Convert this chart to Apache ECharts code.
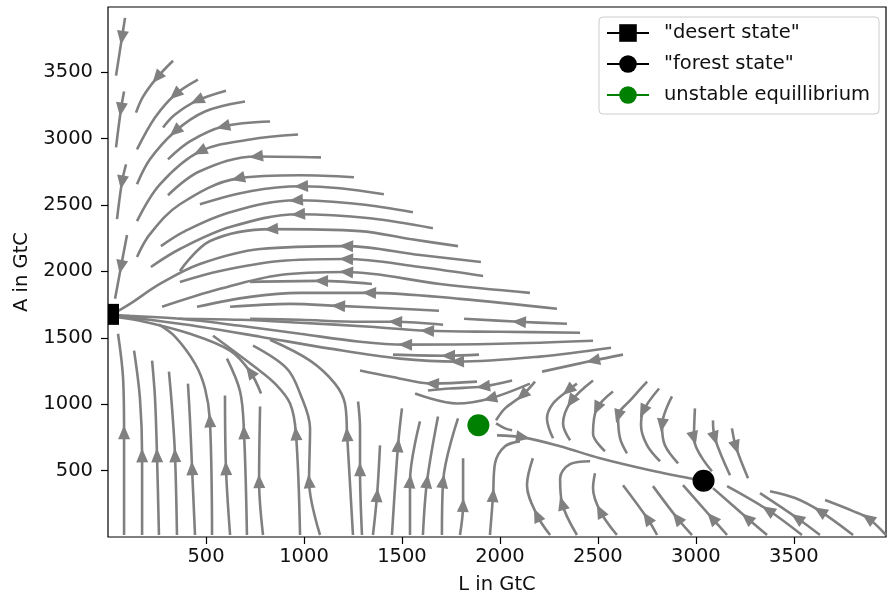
<!DOCTYPE html>
<html>
<head>
<meta charset="utf-8">
<script src="https://cdn.jsdelivr.net/npm/echarts@6/dist/echarts.min.js"></script>
<style>
  html, body { margin: 0; background: #fff; }
  #chart { width: 887px; height: 600px; }
</style>
</head>
<body>
<div id="chart"></div>
<script>
// axis ticks
const xTicks = [500, 1000, 1500, 2000, 2500, 3000, 3500];
const yTicks = [500, 1000, 1500, 2000, 2500, 3000, 3500];

// equilibria [L, A]
const desertState = [0, 1676];
const forestState = [3039, 424];
const unstableEq = [1890, 842];

// streamlines, points in flow order, [L, A]
const streamlines = [
  // left edge, flowing down
  [[87, 3908], [71, 3758], [41, 3473]],
  [[82, 3353], [66, 3218], [41, 2933]],
  [[92, 2805], [71, 2670], [46, 2393]],
  [[97, 2273], [66, 2033], [36, 1793]],
  // upper arcs towards the desert state
  [[332, 3585], [250, 3458], [179, 3315], [143, 3195]],
  [[459, 3443], [342, 3330], [240, 3158], [148, 2918]],
  [[602, 3360], [454, 3285], [342, 3180], [281, 3083]],
  [[699, 3278], [495, 3203], [342, 3053], [214, 2843], [148, 2655]],
  [[827, 3128], [587, 3090], [418, 2978], [306, 2843]],
  [[970, 3030], [725, 2993], [469, 2903], [265, 2655], [148, 2378]],
  [[1087, 2858], [755, 2865], [469, 2753], [306, 2573]],
  [[1255, 2708], [980, 2723], [663, 2700], [367, 2505], [214, 2280], [148, 2108]],
  [[1408, 2580], [1184, 2625], [985, 2640], [725, 2603], [469, 2505]],
  [[1556, 2445], [1286, 2505], [959, 2535], [623, 2445], [393, 2303], [270, 2190]],
  [[1658, 2325], [1337, 2400], [970, 2430], [623, 2333], [367, 2168], [219, 2033]],
  [[1786, 2190], [1541, 2243], [1286, 2303], [832, 2318], [521, 2228], [367, 2003]],
  [[1903, 2070], [1592, 2123], [1215, 2190], [776, 2168], [469, 2055], [265, 1905], [112, 1755], [26, 1680]],
  [[1914, 1965], [1592, 2033], [1215, 2093], [878, 2078], [572, 2003], [367, 1920]],
  [[2153, 1838], [1694, 1905], [1215, 1995], [878, 1973], [572, 1868], [276, 1733]],
  [[2291, 1718], [1796, 1793], [1332, 1838], [980, 1838], [725, 1808], [454, 1733]],
  [[1689, 1703], [1490, 1718], [1174, 1740], [929, 1755], [623, 1733]],
  [[1347, 1905], [1087, 1928], [725, 1920]],
  [[1710, 1598], [1465, 1620], [1286, 1620], [980, 1635], [725, 1643]],
  [[2342, 1605], [2097, 1620], [1817, 1643]],
  [[2409, 1538], [2000, 1545], [1628, 1553], [1337, 1583], [980, 1613], [674, 1635], [362, 1643]],
  [[2475, 1478], [2000, 1455], [1516, 1448], [1286, 1470], [980, 1530], [674, 1590], [367, 1643], [112, 1665], [26, 1673]],
  [[2567, 1425], [2204, 1358], [1781, 1320], [1490, 1343], [1133, 1418], [776, 1508], [469, 1583], [214, 1635], [36, 1665]],
  [[2628, 1373], [2475, 1328], [2215, 1245]],
  [[1883, 1170], [1653, 1155], [1439, 1208], [1286, 1253]],
  [[2062, 1178], [1914, 1133], [1745, 1118], [1633, 1103]],
  [[2153, 1155], [1949, 1043], [1781, 1005], [1567, 1080]],
  [[1893, 1373], [1735, 1365], [1454, 1373]],
  // around the unstable point
  [[2179, 1170], [2113, 1065], [2026, 968], [1980, 878]],
  [[1980, 855], [2026, 818], [2062, 803]],
  [[1985, 765], [2118, 750], [2307, 683], [2511, 593], [2766, 503], [3021, 428]],
  // lower left, flowing up
  [[82, 15], [82, 788], [77, 1193], [51, 1530]],
  [[174, 15], [174, 615], [163, 1043], [133, 1403]],
  [[260, 15], [250, 615], [240, 1043], [225, 1328]],
  [[352, 15], [342, 615], [327, 968], [311, 1245]],
  [[444, 15], [429, 518], [418, 893], [408, 1155]],
  [[531, 15], [520, 878], [495, 1118], [444, 1305], [342, 1508], [260, 1598]],
  [[623, 15], [602, 518], [597, 1065]],
  [[709, 15], [694, 788], [674, 1095], [607, 1343]],
  [[791, 15], [771, 420], [776, 983]],
  [[781, 1080], [725, 1245], [623, 1403], [418, 1530], [163, 1628], [26, 1658]],
  [[980, 15], [959, 780], [929, 1005], [852, 1155], [760, 1268], [536, 1515]],
  [[1082, 15], [1026, 420], [1031, 818], [980, 1080], [913, 1268], [740, 1440]],
  [[1250, 15], [1220, 773], [1209, 1005], [1158, 1155], [1031, 1328], [827, 1485]],
  [[1296, 15], [1286, 510], [1286, 818], [1276, 1020]],
  [[1352, 15], [1373, 315], [1388, 690]],
  [[1449, 15], [1480, 690], [1500, 968]],
  [[1541, 15], [1541, 420], [1592, 870]],
  [[1607, 15], [1628, 420], [1684, 908]],
  [[1704, 15], [1710, 420], [1786, 893]],
  [[1796, 15], [1812, 240], [1812, 593]],
  [[1949, 15], [1965, 315], [1975, 555], [2026, 683], [2102, 720]],
  // above the forest state, flowing down
  [[2393, 1155], [2347, 1103], [2271, 1005], [2240, 893], [2271, 743]],
  [[2475, 1178], [2363, 1020], [2322, 855], [2358, 728]],
  [[2577, 1095], [2495, 968], [2475, 780], [2536, 645]],
  [[2751, 1170], [2674, 1043], [2603, 908], [2613, 743], [2648, 630]],
  [[2812, 1118], [2730, 945], [2720, 840], [2751, 690], [2817, 570]],
  [[2878, 1058], [2827, 840], [2842, 690], [2909, 555]],
  [[2995, 968], [2990, 743], [3082, 495]],
  [[3087, 878], [3097, 743], [3174, 465]],
  [[3184, 818], [3205, 675], [3266, 443]],
  // lower right, flowing up-left
  [[2256, 15], [2189, 165], [2138, 390], [2168, 593]],
  [[2393, 15], [2317, 255], [2307, 443], [2358, 548], [2460, 570]],
  [[2597, 15], [2511, 195], [2475, 368], [2485, 480]],
  [[2802, 15], [2751, 143], [2628, 390]],
  [[2980, 15], [2904, 143], [2781, 383]],
  [[3159, 15], [3082, 143], [2934, 390]],
  [[3363, 15], [3261, 143], [3087, 368]],
  [[3541, 15], [3368, 203], [3159, 383]],
  [[3633, 15], [3516, 143], [3327, 330]],
  [[3802, 15], [3633, 195], [3506, 293], [3378, 345]],
  [[3970, 15], [3878, 143], [3802, 195], [3659, 278]]
];

// index of the point carrying the arrow head, -1 for none
const arrowAt = [
  1, 1, 1, 1,
  1, 1, 1, 2, 1,
  2, 1, 2, 2, 2, 2, 3, 2, 2, 2, 2,
  2, 1, 1, 1, 2, 2, 2, 1, 1, 1, 1, 1,
  1, -1, 1,
  1, 1, 1, 1, 1, 1, 1, 1, 1, 1, 1, 1, 1, 1,
  1, 1, 1, 1, 1, 1, 1,
  1, 1, 1, 2, 1, 1, 1, 1, 1,
  1, 1, 1, 1, 1, 1, 1, 1, 1, 1, 1
];

const FONT = '"DejaVu Sans", sans-serif';
const GREY = '#808080';

const chart = echarts.init(document.getElementById('chart'), null, { renderer: 'canvas' });

const lineSeries = streamlines.map(pts => ({
  type: 'line',
  data: pts,
  smooth: 0.35,
  symbol: 'none',
  silent: true,
  animation: false,
  lineStyle: { color: GREY, width: 2.6 },
  z: 2
}));

const option = {
  animation: false,
  backgroundColor: '#fff',
  textStyle: { fontFamily: FONT },
  grid: {
    left: 108, right: 1, top: 7, bottom: 61,
    show: true, borderColor: '#000', borderWidth: 1.2,
    containLabel: false
  },
  legend: {
    orient: 'vertical',
    left: 599, top: 17,
    data: ['"desert state"', '"forest state"', 'unstable equillibrium'],
    itemWidth: 42, itemHeight: 22, itemGap: 11,
    padding: [6, 9, 9, 7],
    borderColor: '#cccccc', borderWidth: 1, borderRadius: 4,
    backgroundColor: 'rgba(255,255,255,0.8)',
    textStyle: { fontFamily: FONT, fontSize: 19.5, color: '#111', padding: [0, 0, 0, 10] }
  },
  xAxis: {
    type: 'value', min: 0, max: 3970,
    name: 'L in GtC', nameLocation: 'middle', nameGap: 38,
    nameTextStyle: { fontFamily: FONT, fontSize: 19.5, color: '#111' },
    axisLine: { show: false },
    splitLine: { show: false },
    axisTick: { show: true, length: 7, lineStyle: { color: '#000', width: 1.2 }, customValues: xTicks },
    axisLabel: { fontFamily: FONT, fontSize: 19.5, color: '#111', margin: 10, customValues: xTicks, formatter: v => String(v) }
  },
  yAxis: {
    type: 'value', min: 0, max: 3990,
    name: 'A in GtC', nameLocation: 'middle', nameGap: 76,
    nameTextStyle: { fontFamily: FONT, fontSize: 19.5, color: '#111' },
    axisLine: { show: false },
    splitLine: { show: false },
    axisTick: { show: true, length: 7, lineStyle: { color: '#000', width: 1.2 }, customValues: yTicks },
    axisLabel: { fontFamily: FONT, fontSize: 19.5, color: '#111', margin: 15, customValues: yTicks, formatter: v => String(v) }
  },
  series: lineSeries.concat([
    { id: 'arrows', type: 'scatter', data: [], symbol: 'triangle', symbolSize: [12, 14],
      itemStyle: { color: GREY, opacity: 1 }, silent: true, z: 3 },
    // legend entries
    { name: '"desert state"', type: 'line', data: [], symbol: 'rect', symbolSize: 21,
      itemStyle: { color: '#000' }, lineStyle: { color: '#000', width: 2.5 } },
    { name: '"forest state"', type: 'line', data: [forestState], symbol: 'circle', symbolSize: 22,
      showSymbol: true, itemStyle: { color: '#000' }, lineStyle: { color: '#000', width: 2.5 }, z: 6 },
    { name: 'unstable equillibrium', type: 'line', data: [unstableEq], symbol: 'circle', symbolSize: 22,
      showSymbol: true, itemStyle: { color: '#008000' }, lineStyle: { color: '#008000', width: 2.5 }, z: 6 },
    // desert marker, clipped by the left spine as in the original
    { name: 'desert marker', type: 'scatter', data: [desertState], symbol: 'rect',
      symbolSize: [11, 21], symbolOffset: [5.5, 0], itemStyle: { color: '#000', opacity: 1 }, z: 6 }
  ])
};

chart.setOption(option);

// arrow heads: direction taken from neighbouring points in pixel space
const arrows = [];
streamlines.forEach((pts, k) => {
  const i = arrowAt[k];
  if (i < 0) return;
  const a = chart.convertToPixel({ gridIndex: 0 }, pts[Math.max(0, i - 1)]);
  const b = chart.convertToPixel({ gridIndex: 0 }, pts[Math.min(pts.length - 1, i + 1)]);
  const ang = Math.atan2(-(b[1] - a[1]), b[0] - a[0]) * 180 / Math.PI;
  arrows.push({ value: pts[i], symbolRotate: ang - 90 });
});
chart.setOption({ series: [{ id: 'arrows', data: arrows }] });
</script>
</body>
</html>
